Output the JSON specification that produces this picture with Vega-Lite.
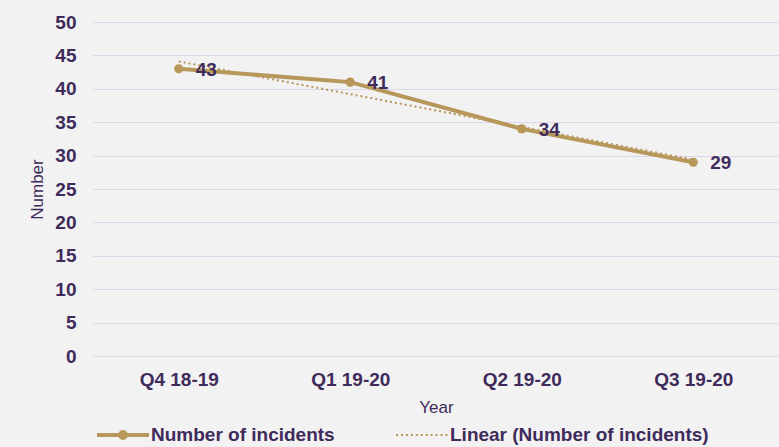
{
  "$schema": "https://vega.github.io/schema/vega-lite/v6.json",
  "width": 686,
  "height": 334,
  "autosize": {"type": "none"},
  "padding": {"left": 93, "top": 22, "right": 0, "bottom": 91},
  "background": "#f2f2f2",
  "config": {
    "view": {"stroke": null},
    "font": "Liberation Sans",
    "axis": {
      "labelFont": "Liberation Sans",
      "titleFont": "Liberation Sans",
      "labelColor": "#3f2b5b",
      "titleColor": "#3f2b5b",
      "labelFontWeight": "bold",
      "labelFontSize": 19,
      "titleFontSize": 17,
      "titleFontWeight": "normal",
      "ticks": false,
      "domain": false,
      "gridColor": "#ddd6ea",
      "gridWidth": 1
    },
    "axisY": {
      "values": [0, 5, 10, 15, 20, 25, 30, 35, 40, 45, 50],
      "labelOverlap": false,
      "labelPadding": 17,
      "titlePadding": 8,
      "grid": true
    }
  },
  "layer": [
    {
      "data": {"values": [
        {"quarter": "Q4 18-19", "incidents": 43, "trend": 44.1},
        {"quarter": "Q1 19-20", "incidents": 41, "trend": 39.2},
        {"quarter": "Q2 19-20", "incidents": 34, "trend": 34.3},
        {"quarter": "Q3 19-20", "incidents": 29, "trend": 29.4}
      ]},
      "encoding": {
        "x": {
          "field": "quarter", "type": "ordinal", "sort": null,
          "scale": {"type": "point", "padding": 0.5},
          "axis": {"title": "Year", "labelAngle": 0, "labelPadding": 14, "titlePadding": 10, "grid": false}
        }
      },
      "layer": [
        {
          "mark": {"type": "line", "color": "#b8975a", "strokeWidth": 4},
          "encoding": {
            "y": {
              "field": "incidents", "type": "quantitative",
              "scale": {"domain": [0, 50]},
              "axis": {"title": "Number", "values": [0, 5, 10, 15, 20, 25, 30, 35, 40, 45, 50], "labelOverlap": false}
            }
          }
        },
        {
          "mark": {"type": "point", "filled": true, "color": "#b8975a", "size": 85, "opacity": 1},
          "encoding": {"y": {"field": "incidents", "type": "quantitative", "axis": {"title": "Number", "values": [0, 5, 10, 15, 20, 25, 30, 35, 40, 45, 50], "labelOverlap": false}}}
        },
        {
          "mark": {"type": "line", "color": "#b8975a", "strokeWidth": 2, "strokeDash": [2, 3]},
          "encoding": {"y": {"field": "trend", "type": "quantitative", "axis": {"title": "Number", "values": [0, 5, 10, 15, 20, 25, 30, 35, 40, 45, 50], "labelOverlap": false}}}
        },
        {
          "mark": {"type": "text", "align": "left", "baseline": "middle", "dx": 17, "dy": 1, "fontSize": 19, "fontWeight": "bold", "color": "#3f2b5b", "font": "Liberation Sans"},
          "encoding": {
            "y": {"field": "incidents", "type": "quantitative", "axis": {"title": "Number", "values": [0, 5, 10, 15, 20, 25, 30, 35, 40, 45, 50], "labelOverlap": false}},
            "text": {"field": "incidents", "type": "quantitative"}
          }
        }
      ]
    },
    {
      "data": {"values": [
        {"series": "Number of incidents"},
        {"series": "Linear (Number of incidents)"}
      ]},
      "mark": {"type": "point", "filled": true, "opacity": 0, "color": "#b8975a"},
      "encoding": {
        "shape": {
          "field": "series", "type": "nominal",
          "scale": {
            "domain": ["Number of incidents", "Linear (Number of incidents)"],
            "range": [
              "M-1,-0.077L-0.15,-0.077L-0.15,0.077L-1,0.077Z M0.15,-0.077L1,-0.077L1,0.077L0.15,0.077Z M0.19,0A0.19,0.19,0,1,1,-0.19,0A0.19,0.19,0,1,1,0.19,0Z",
              "M-1,-0.04L-0.92,-0.04L-0.92,0.04L-1,0.04Z M-0.81,-0.04L-0.73,-0.04L-0.73,0.04L-0.81,0.04Z M-0.62,-0.04L-0.54,-0.04L-0.54,0.04L-0.62,0.04Z M-0.43,-0.04L-0.35,-0.04L-0.35,0.04L-0.43,0.04Z M-0.24,-0.04L-0.16,-0.04L-0.16,0.04L-0.24,0.04Z M-0.05,-0.04L0.03,-0.04L0.03,0.04L-0.05,0.04Z M0.14,-0.04L0.22,-0.04L0.22,0.04L0.14,0.04Z M0.33,-0.04L0.41,-0.04L0.41,0.04L0.33,0.04Z M0.52,-0.04L0.6,-0.04L0.6,0.04L0.52,0.04Z M0.71,-0.04L0.79,-0.04L0.79,0.04L0.71,0.04Z M0.9,-0.04L0.98,-0.04L0.98,0.04L0.9,0.04Z"
            ]
          },
          "legend": {
            "title": null,
            "orient": "none",
            "direction": "horizontal",
            "legendX": 4,
            "legendY": 387,
            "symbolSize": 2704,
            "symbolOpacity": 1,
            "symbolFillColor": "#b8975a",
            "symbolStrokeWidth": 0,
            "labelFont": "Liberation Sans",
            "labelFontSize": 19,
            "labelFontWeight": "bold",
            "labelColor": "#3f2b5b",
            "labelOffset": 2,
            "columnPadding": 61,
            "labelLimit": 400
          }
        }
      }
    }
  ]
}
